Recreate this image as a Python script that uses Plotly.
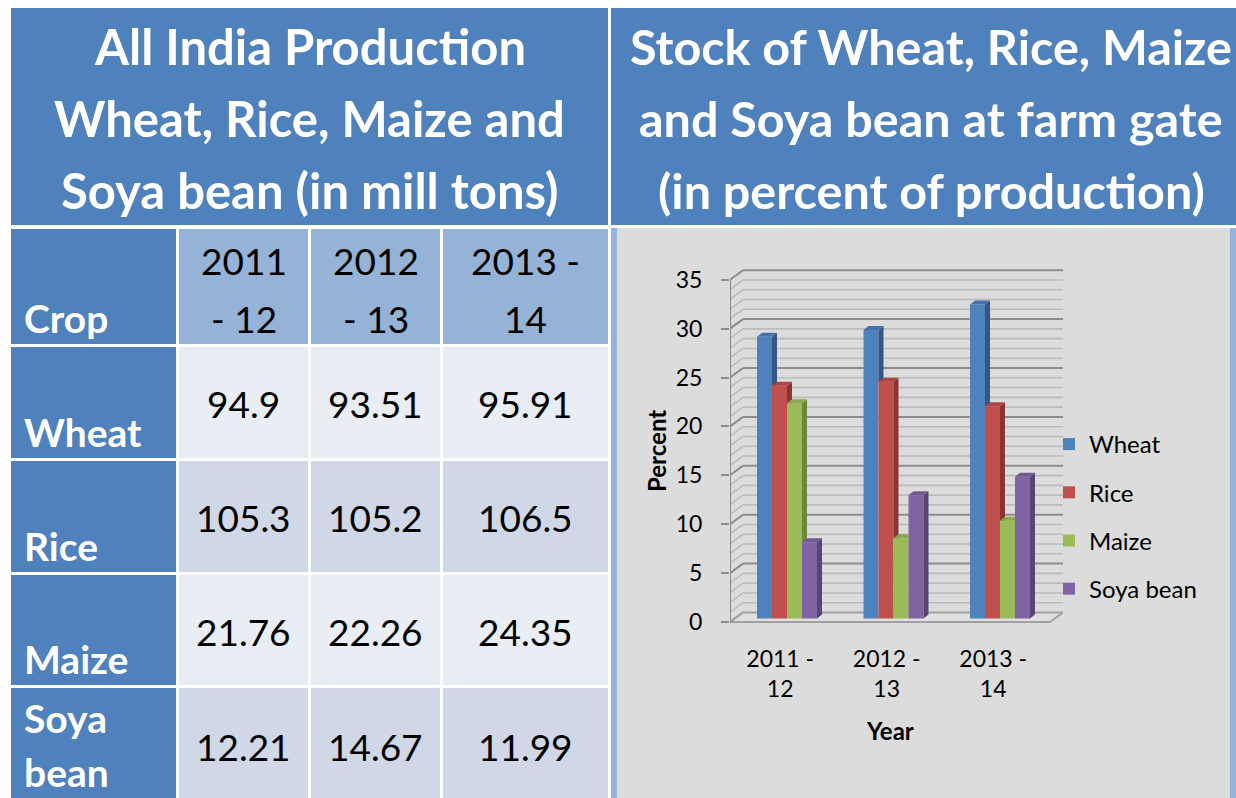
import plotly.graph_objects as go

# ---------------- data ----------------
crops = ["Wheat", "Rice", "Maize", "Soya bean"]
years = ["2011 - 12", "2012 - 13", "2013 - 14"]
table_year_lines = [["2011", "- 12"], ["2012", "- 13"], ["2013 -", "14"]]
crop_label_lines = [["Wheat"], ["Rice"], ["Maize"], ["Soya", "bean"]]

prod_wheat = [94.9, 93.51, 95.91]
prod_rice = [105.3, 105.2, 106.5]
prod_maize = [21.76, 22.26, 24.35]
prod_soya = [12.21, 14.67, 11.99]

stock_wheat = [28.8, 29.5, 32.1]
stock_rice = [23.8, 24.2, 21.7]
stock_maize = [22.0, 8.2, 10.0]
stock_soya = [7.8, 12.6, 14.5]

y_ticks = [0, 5, 10, 15, 20, 25, 30, 35]

title_left = ["All India Production", "Wheat, Rice, Maize and", "Soya bean (in mill tons)"]
title_right = ["Stock of Wheat, Rice, Maize", "and Soya bean at farm gate", "(in percent of production)"]

# ---------------- styles / geometry ----------------
W, H = 1236, 798
FONT = "Lato"
DARK_BLUE = "#4F81BD"
LIGHT_BLUE = "#95B3D7"
ROW_LIGHT = "#E9EDF4"
ROW_DARK = "#D0D8E8"
PANEL_BG = "#DCDCDC"
front_cols = ["#4F81BD", "#C0504D", "#9BBB59", "#8064A2"]
side_cols = ["#345685", "#8A3532", "#6D873B", "#594474"]
top_cols = ["#4572AA", "#AD4643", "#8AA84F", "#715993"]


def px(x):
    return x / W


def py(y):
    return 1 - y / H


# chart pixel mapping (category index -> px, value -> px)
XPX0, XPPU = 787.0, 106.5
YPX0, YPPU = 618.5, 9.78


def dxd(p):
    return (p - XPX0) / XPPU


def dyd(p):
    return (YPX0 - p) / YPPU


X_LEFT_PX, X_RIGHT_PX = 730, 1063
Y_TOP_PX, Y_BOT_PX = 262, 630
FRONT_OFF = dyd(622)
BACK_OFF = dyd(612.5)
BACK_X0 = dxd(743)
FLOOR_FRONT_X1 = dxd(1050)
XMIN, XMAX = dxd(X_LEFT_PX), dxd(X_RIGHT_PX)
DXD = 5 / XPPU
DYD = 4 / YPPU
BARGAP = 1 - 60 / XPPU

fig = go.Figure()
shapes = []
annotations = []

# ---------------- table ----------------
col_edges = [(11, 176), (179, 308), (311, 440), (443, 608)]
row_edges = [(229, 344), (347, 458), (461, 572), (575, 685), (688, 802)]


def rect(x0, y0, x1, y1, color):
    shapes.append(dict(type="rect", xref="paper", yref="paper", layer="below",
                       x0=px(x0), x1=px(x1), y0=py(y1), y1=py(y0),
                       fillcolor=color, line=dict(width=0)))


def text(x, y, s, size, color="black", bold=False, xanchor="center", angle=0,
         yanchor="middle"):
    annotations.append(dict(xref="paper", yref="paper", x=px(x), y=py(y),
                            text=("<b>%s</b>" % s) if bold else s, showarrow=False,
                            xanchor=xanchor, yanchor=yanchor, textangle=angle,
                            font=dict(family=FONT, size=size, color=color)))


# headers
rect(11, 8, 608, 225, DARK_BLUE)
rect(611, 8, 1240, 225, DARK_BLUE)
for k, line in enumerate(title_left):
    text(309.5, 46 + 72 * k, line, 49, "white", True)
for k, line in enumerate(title_right):
    text(931, 46 + 72 * k, line, 48.5, "white", True)

production = [prod_wheat, prod_rice, prod_maize, prod_soya]
for r, (ry0, ry1) in enumerate(row_edges):
    for c, (cx0, cx1) in enumerate(col_edges):
        if c == 0:
            colr = DARK_BLUE
        elif r == 0:
            colr = LIGHT_BLUE
        else:
            colr = ROW_LIGHT if r % 2 == 1 else ROW_DARK
        rect(cx0, ry0, cx1, ry1, colr)

LABEL_X = 22
text(LABEL_X, 318, "Crop", 39, "white", True, xanchor="left")
for c, lines in enumerate(table_year_lines):
    cx0, cx1 = col_edges[c + 1]
    for k, line in enumerate(lines):
        text((cx0 + cx1) / 2, 260 + 58 * k, line, 37)

for r, lines in enumerate(crop_label_lines):
    ry0, ry1 = row_edges[r + 1]
    if len(lines) == 1:
        text(LABEL_X, ry1 - 26, lines[0], 39, "white", True, xanchor="left")
    else:
        text(LABEL_X, ry0 + 30, lines[0], 39, "white", True, xanchor="left")
        # last line sits on the bottom edge of the page
        text(LABEL_X, H - 1, lines[1], 39, "white", True, xanchor="left", yanchor="bottom")
    for c in range(3):
        cx0, cx1 = col_edges[c + 1]
        text((cx0 + cx1) / 2, (ry0 + ry1) / 2 + 1, str(production[r][c]), 37)

# ---------------- chart panel ----------------
rect(611, 228, 1236, 802, LIGHT_BLUE)
rect(617, 228, 1230, 802, PANEL_BG)


def dline(x0, y0, x1, y1, color, width):
    shapes.append(dict(type="line", xref="x", yref="y", layer="below",
                       x0=x0, y0=y0, x1=x1, y1=y1, line=dict(color=color, width=width)))


# floor
shapes.append(dict(type="path", xref="x", yref="y", layer="below",
                   path="M%f,%f L%f,%f L%f,%f L%f,%f Z" % (
                       XMIN, FRONT_OFF, FLOOR_FRONT_X1, FRONT_OFF,
                       XMAX, BACK_OFF, BACK_X0, BACK_OFF),
                   fillcolor="#E0E0E0", line=dict(color="#A0A0A0", width=2)))

# gridlines on back wall + side wall
for v in range(1, 36):
    major = v % 5 == 0
    colr = "#8C8C8C" if major else "#BBBBBB"
    wdt = 2 if major else 1.6
    dline(BACK_X0, v + BACK_OFF, XMAX, v + BACK_OFF, colr, wdt)
    dline(XMIN, v + FRONT_OFF, BACK_X0, v + BACK_OFF, colr, wdt)
dline(XMIN, FRONT_OFF, BACK_X0, BACK_OFF, "#A0A0A0", 2)
# value axis line
dline(XMIN, FRONT_OFF, XMIN, 35 + FRONT_OFF, "#8C8C8C", 2)

# ---------------- bars ----------------
stocks = [stock_wheat, stock_rice, stock_maize, stock_soya]
xs = list(range(len(years)))
for s, name in enumerate(crops):
    fig.add_trace(go.Bar(x=xs, y=stocks[s], name=name, legendgroup=name,
                         marker=dict(color=front_cols[s], line=dict(width=0)),
                         hoverinfo="skip"))

bw = (1 - BARGAP) / len(crops)
for s in range(len(crops)):
    side_x, side_y, top_x, top_y = [], [], [], []
    for i in xs:
        h = stocks[s][i]
        xl = i - (1 - BARGAP) / 2 + s * bw
        xr = xl + bw
        hn = stocks[s + 1][i] if s + 1 < len(crops) else 0
        # side face (clipped by the next bar's front face)
        if hn <= 0:
            poly = [(xr, 0), (xr + DXD, DYD), (xr + DXD, h + DYD), (xr, h)]
        elif hn < h:
            poly = [(xr, hn), (xr + DXD, hn), (xr + DXD, h + DYD), (xr, h)]
        elif hn < h + DYD:
            poly = [(xr + DXD * (hn - h) / DYD, hn), (xr + DXD, hn), (xr + DXD, h + DYD)]
        else:
            poly = []
        if poly:
            side_x += [p[0] for p in poly] + [poly[0][0], None]
            side_y += [p[1] for p in poly] + [poly[0][1], None]
        # top face
        if hn > h:
            poly = [(xl, h), (xr, h), (xr, h + DYD), (xl + DXD, h + DYD)]
        else:
            poly = [(xl, h), (xr, h), (xr + DXD, h + DYD), (xl + DXD, h + DYD)]
        top_x += [p[0] for p in poly] + [poly[0][0], None]
        top_y += [p[1] for p in poly] + [poly[0][1], None]
    fig.add_trace(go.Scatter(x=side_x, y=side_y, mode="lines", fill="toself",
                             fillcolor=side_cols[s], line=dict(width=0, color=side_cols[s]),
                             showlegend=False, hoverinfo="skip"))
    fig.add_trace(go.Scatter(x=top_x, y=top_y, mode="lines", fill="toself",
                             fillcolor=top_cols[s], line=dict(width=0, color=top_cols[s]),
                             showlegend=False, hoverinfo="skip"))

# axis titles
text(656, 451, "Percent", 24, "black", True, angle=-90)
text(890, 730, "Year", 24, "black", True)

fig.update_layout(
    width=W, height=H, autosize=False,
    margin=dict(l=0, r=0, t=0, b=0, pad=0),
    paper_bgcolor="white", plot_bgcolor="rgba(0,0,0,0)",
    barmode="group", bargap=BARGAP, bargroupgap=0,
    shapes=shapes, annotations=annotations,
    font=dict(family=FONT, color="black"),
    showlegend=True,
    legend=dict(x=px(1049), y=py(422), xanchor="left", yanchor="top",
                bgcolor="rgba(0,0,0,0)", tracegroupgap=14,
                font=dict(family=FONT, size=24, color="black")),
    xaxis=dict(domain=[px(X_LEFT_PX), px(X_RIGHT_PX)], range=[XMIN, XMAX],
               tickmode="array", tickvals=[i - 0.064 for i in xs],
               ticktext=[y.replace(" - ", " -<br>") for y in years],
               showgrid=False, zeroline=False, showline=False, ticks="",
               ticklabelstandoff=13, automargin=False,
               tickfont=dict(family=FONT, size=23, color="black"), fixedrange=True),
    yaxis=dict(domain=[py(Y_BOT_PX), py(Y_TOP_PX)], range=[dyd(Y_BOT_PX), dyd(Y_TOP_PX)],
               tickmode="array", tickvals=[k + FRONT_OFF for k in y_ticks],
               ticktext=[str(k) for k in y_ticks],
               showgrid=False, zeroline=False, showline=False,
               ticks="outside", ticklen=8, tickwidth=2, tickcolor="#8C8C8C",
               ticklabelstandoff=14, automargin=False,
               tickfont=dict(family=FONT, size=23, color="black"), fixedrange=True),
)

fig.write_html("out.html", config={"displayModeBar": False},
               post_script="document.body.style.margin='0';")
